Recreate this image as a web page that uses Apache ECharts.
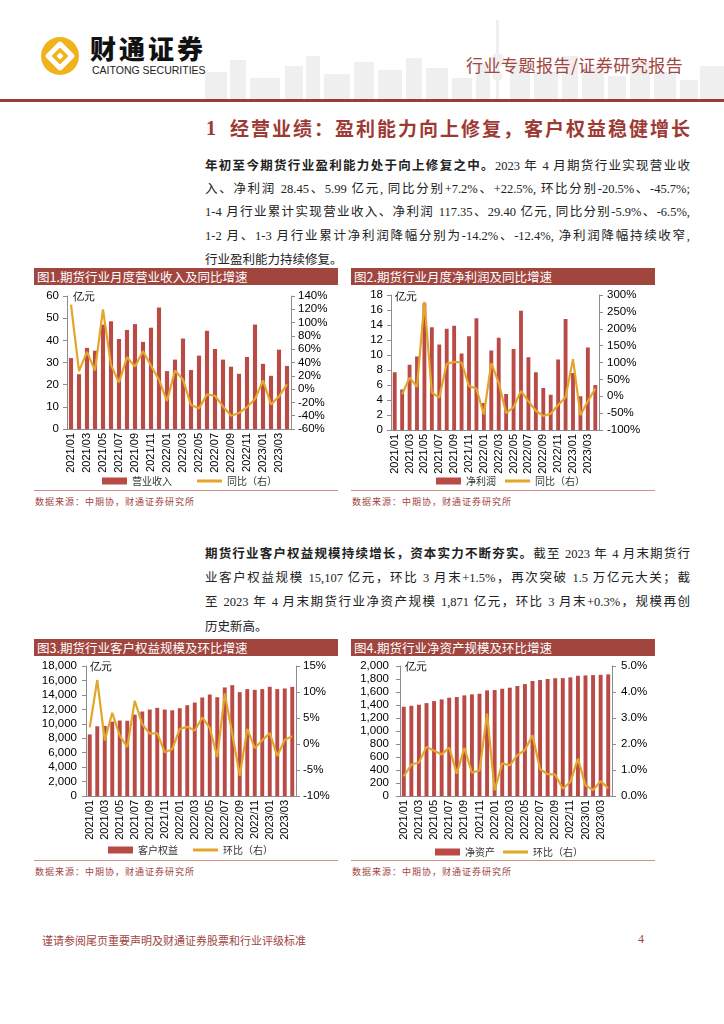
<!DOCTYPE html>
<html><head><meta charset="utf-8">
<script src="https://cdn.jsdelivr.net/npm/echarts@6/dist/echarts.min.js"></script>
<style>
body{margin:0;width:724px;height:1024px;position:relative;background:#fff;overflow:hidden;font-family:"Liberation Serif","Noto Sans CJK SC",serif;}
.abs{position:absolute;white-space:nowrap;}
.p{position:absolute;left:205px;width:485px;font-size:12.5px;color:#222;text-align:justify;text-align-last:justify;white-space:nowrap;line-height:16px;}
.p.last{text-align-last:left;}
.tbar{position:absolute;height:17px;background:#a0463f;color:#fff;font-family:"Noto Sans CJK SC";font-size:12.5px;line-height:17px;padding-left:3px;box-sizing:border-box;}
.srcline{position:absolute;height:0;border-top:1.5px solid #cf8f8a;}
.src{position:absolute;font-family:"Noto Sans CJK SC";font-size:9px;color:#a0463f;letter-spacing:1px;}
#chart{position:absolute;left:0;top:0;width:724px;height:1024px;}
</style></head>
<body>
<svg class="abs" style="left:0;top:0" width="724" height="104">
  <g fill="#efefef">
    <rect x="205" y="72" width="22" height="28"/><rect x="230" y="60" width="16" height="40"/>
    <rect x="250" y="78" width="30" height="22"/><rect x="285" y="66" width="18" height="34"/>
    <rect x="306" y="56" width="14" height="44"/><rect x="324" y="74" width="26" height="26"/>
    <rect x="354" y="62" width="20" height="38"/><rect x="378" y="70" width="24" height="30"/>
    <rect x="406" y="58" width="16" height="42"/><rect x="426" y="68" width="22" height="32"/>
    <rect x="452" y="78" width="20" height="22"/><rect x="476" y="64" width="14" height="36"/>
    <rect x="496" y="20" width="3" height="80"/><circle cx="497.5" cy="60" r="7"/><circle cx="497.5" cy="76" r="5"/>
    <rect x="510" y="60" width="20" height="40"/><rect x="534" y="72" width="24" height="28"/>
    <rect x="562" y="56" width="16" height="44"/><rect x="582" y="68" width="22" height="32"/>
    <rect x="608" y="76" width="18" height="24"/><rect x="630" y="62" width="20" height="38"/>
    <rect x="654" y="72" width="22" height="28"/><rect x="680" y="80" width="18" height="20"/>
    <rect x="700" y="66" width="24" height="34"/>
  </g>
  <rect x="0" y="99" width="724" height="3" fill="#9e3b36"/>
</svg>
<svg class="abs" style="left:40px;top:35px" width="40" height="42">
  <circle cx="20" cy="21" r="19" fill="#f1b31c"/>
  <rect x="9" y="10" width="22" height="22" fill="#fff" transform="rotate(45 20 21)" rx="3"/>
  <rect x="14" y="15" width="12" height="12" fill="#f1b31c" transform="rotate(45 20 21)" rx="1"/>
  <rect x="17.5" y="18.5" width="5" height="5" fill="#fff" transform="rotate(45 20 21)"/>
</svg>
<div class="abs" style="left:90px;top:33px;font-family:'Noto Sans CJK SC';font-weight:900;font-size:26px;letter-spacing:3px;color:#111;line-height:30px;">财通证券</div>
<div class="abs" style="left:92px;top:64px;font-family:'Liberation Sans';font-size:10.5px;color:#222;line-height:12px;">CAITONG SECURITIES</div>
<div class="abs" style="left:466px;top:54px;font-family:'Noto Sans CJK SC';font-size:17px;color:#a0463f;line-height:22px;letter-spacing:0.5px;">行业专题报告/证券研究报告</div>

<div class="abs" style="left:206px;top:115px;font-family:'Liberation Serif';font-weight:bold;font-size:20px;color:#9e3a34;line-height:26px;">1</div>
<div class="abs" style="left:230px;top:115px;width:460px;font-family:'Noto Sans CJK SC';font-weight:700;font-size:19px;color:#9e3a34;line-height:26px;text-align:justify;text-align-last:justify;">经营业绩：盈利能力向上修复，客户权益稳健增长</div>

<div class="p" style="top:157px"><b style="font-family:'Noto Sans CJK SC'">年初至今期货行业盈利能力处于向上修复之中。</b>2023 年 4 月期货行业实现营业收</div>
<div class="p" style="top:181px">入、净利润 28.45、5.99 亿元, 同比分别+7.2%、+22.5%, 环比分别-20.5%、-45.7%;</div>
<div class="p" style="top:204px">1-4 月行业累计实现营业收入、净利润 117.35、29.40 亿元, 同比分别-5.9%、-6.5%,</div>
<div class="p" style="top:228px">1-2 月、1-3 月行业累计净利润降幅分别为-14.2%、-12.4%, 净利润降幅持续收窄,</div>
<div class="p last" style="top:252px">行业盈利能力持续修复。</div>

<div class="tbar" style="left:34px;top:268px;width:304px;">图1.期货行业月度营业收入及同比增速</div>
<div class="tbar" style="left:351px;top:268px;width:304px;">图2.期货行业月度净利润及同比增速</div>
<div class="srcline" style="left:34px;top:490px;width:304px;"></div>
<div class="srcline" style="left:351px;top:490px;width:304px;"></div>
<div class="src" style="left:35px;top:495px;">数据来源：中期协，财通证券研究所</div>
<div class="src" style="left:352px;top:495px;">数据来源：中期协，财通证券研究所</div>

<div class="p" style="top:545px"><b style="font-family:'Noto Sans CJK SC'">期货行业客户权益规模持续增长，资本实力不断夯实。</b>截至 2023 年 4 月末期货行</div>
<div class="p" style="top:570px">业客户权益规模 15,107 亿元，环比 3 月末+1.5%，再次突破 1.5 万亿元大关；截</div>
<div class="p" style="top:594px">至 2023 年 4 月末期货行业净资产规模 1,871 亿元，环比 3 月末+0.3%，规模再创</div>
<div class="p last" style="top:619px">历史新高。</div>

<div class="tbar" style="left:34px;top:639px;width:304px;">图3.期货行业客户权益规模及环比增速</div>
<div class="tbar" style="left:351px;top:639px;width:304px;">图4.期货行业净资产规模及环比增速</div>
<div class="srcline" style="left:34px;top:860px;width:304px;"></div>
<div class="srcline" style="left:351px;top:860px;width:304px;"></div>
<div class="src" style="left:35px;top:865px;">数据来源：中期协，财通证券研究所</div>
<div class="src" style="left:352px;top:865px;">数据来源：中期协，财通证券研究所</div>

<div class="abs" style="left:42px;top:932px;font-family:'Noto Sans CJK SC';font-size:11px;color:#a0463f;">谨请参阅尾页重要声明及财通证券股票和行业评级标准</div>
<div class="abs" style="left:638px;top:932px;font-family:'Liberation Serif';font-size:12px;color:#a0463f;">4</div>

<div id="chart"></div>
<script>
const months = ['2021/01','2021/02','2021/03','2021/04','2021/05','2021/06','2021/07','2021/08','2021/09','2021/10','2021/11','2021/12',
  '2022/01','2022/02','2022/03','2022/04','2022/05','2022/06','2022/07','2022/08','2022/09','2022/10','2022/11','2022/12',
  '2023/01','2023/02','2023/03','2023/04'];
const revenue = [32.0, 24.7, 36.6, 35.3, 47.1, 48.6, 40.6, 44.7, 47.3, 39.3, 45.7, 54.8, 26.1, 31.3, 40.8, 26.6, 33.1, 44.3, 36.1, 31.3, 28.1, 24.9, 32.5, 47.1, 29.4, 24.0, 35.8, 28.45];
const revenueYoY = [127, 27, 56, 28, 120, 36, 10, 48, 34, 57, 35, 14, -18, 28, 14, -24, -29, -8, -10, -26, -40, -36, -27, -15, 13, -23, -11, 7.2];
const profit = [7.7, 5.4, 8.7, 9.8, 16.9, 13.7, 11.4, 13.5, 13.9, 10.2, 12.5, 14.9, 3.6, 10.6, 12.3, 4.8, 10.8, 15.9, 9.7, 7.7, 5.6, 4.7, 9.4, 14.8, 7.6, 4.5, 11.0, 5.99];
const profitYoY = ['-', 6, 55, 28, 280, 11, -4, 96, 102, 100, 30, 23, -54, 98, 40, -50, -32, 16, -15, -43, -58, -52, -26, -3, 110, -56, -15, 22.5];
const equity = [8530, 9650, 9700, 10300, 10450, 10420, 11270, 11700, 11970, 12200, 11970, 11870, 12150, 12570, 12940, 13640, 14050, 13680, 15030, 15350, 14380, 14800, 14700, 14800, 15120, 14800, 14890, 15107];
const equityMoM = [3.2, 12.3, 0.7, 6.0, 1.6, -0.6, 8.3, 3.8, 2.0, 2.1, -1.6, -1.0, 2.9, 3.3, 2.6, 5.1, 3.1, -2.5, 9.7, 2.0, -6.1, 2.9, -0.8, 0.7, 2.1, -2.3, 0.8, 1.5];
const netAssets = [1373, 1388, 1404, 1429, 1460, 1486, 1512, 1522, 1548, 1563, 1573, 1625, 1630, 1650, 1666, 1692, 1722, 1769, 1784, 1800, 1812, 1814, 1825, 1850, 1855, 1860, 1865, 1871];
const netAssetsMoM = [0.76, 1.21, 1.29, 1.89, 1.74, 1.6, 1.86, 0.86, 1.85, 0.9, 0.98, 3.17, 0.22, 1.26, 1.18, 1.57, 1.77, 2.34, 1.03, 0.84, 0.82, 0.28, 0.54, 1.44, 0.41, 0.23, 0.57, 0.3];

const barColor = '#b94a45';
const lineColor = '#e3a52a';
const axisColor = '#8c8c8c';
const font = 'Liberation Sans';

const charts = [
  {grid:{left:67, top:296, width:224, height:133}, bar:revenue, line:revenueYoY, barName:'营业收入', lineName:'同比（右）',
   l:{min:0,max:60,interval:10,fmt:v=>v, margin:8}, r:{min:-60,max:140,interval:20,fmt:v=>v+'%', margin:7},
   unit:[73,292], lg1:[97,471], lg2:[192,471]},
  {grid:{left:391, top:295, width:208, height:135}, bar:profit, line:profitYoY, barName:'净利润', lineName:'同比（右）',
   l:{min:0,max:18,interval:2,fmt:v=>v, margin:8}, r:{min:-100,max:300,interval:50,fmt:v=>v+'%', margin:8},
   unit:[395,292], lg1:[431,471], lg2:[500,471]},
  {grid:{left:86, top:666, width:210, height:130}, bar:equity, line:equityMoM, barName:'客户权益', lineName:'环比（右）',
   l:{min:0,max:18000,interval:2000,fmt:v=>v.toLocaleString('en-US'), margin:9}, r:{min:-10,max:15,interval:5,fmt:v=>v+'%', margin:7},
   unit:[90,662], lg1:[103,840], lg2:[188,840]},
  {grid:{left:400, top:666, width:212, height:130}, bar:netAssets, line:netAssetsMoM, barName:'净资产', lineName:'环比（右）',
   l:{min:0,max:2000,interval:200,fmt:v=>v.toLocaleString('en-US'), margin:11}, r:{min:0,max:5,interval:1,fmt:v=>v.toFixed(1)+'%', margin:9},
   unit:[405,662], lg1:[430,842], lg2:[498,842]}
];

const option = {animation:false, grid:[], xAxis:[], yAxis:[], series:[], legend:[], graphic:[]};
charts.forEach((c, i) => {
  option.grid.push(c.grid);
  option.xAxis.push({type:'category', gridIndex:i, data:months, boundaryGap:true,
    axisLine:{lineStyle:{color:axisColor}}, axisTick:{show:false},
    axisLabel:{rotate:90, interval:1, fontSize:11, color:'#000', margin:4, fontFamily:font}});
  [['left', c.l], ['right', c.r]].forEach(([pos, a]) => {
    option.yAxis.push({type:'value', gridIndex:i, position:pos, min:a.min, max:a.max, interval:a.interval,
      splitLine:{show:false}, axisLine:{show:true, lineStyle:{color:axisColor}},
      axisTick:{show:true, length:4, lineStyle:{color:axisColor}},
      axisLabel:{formatter:a.fmt, fontSize:11.5, color:'#000', fontFamily:font, margin:a.margin}});
  });
  option.series.push({type:'bar', name:c.barName, xAxisIndex:i, yAxisIndex:2*i, data:c.bar, barWidth:'52%',
    itemStyle:{color:barColor}, z:2});
  option.series.push({type:'line', name:c.lineName, xAxisIndex:i, yAxisIndex:2*i+1, data:c.line, symbol:'none',
    lineStyle:{width:2.2, color:lineColor}, itemStyle:{color:lineColor}, z:3});
  const lgBase = {itemWidth:25, itemGap:10, selectedMode:false,
    textStyle:{fontSize:10, color:'#333', fontFamily:'Noto Sans CJK SC'}};
  option.legend.push(Object.assign({}, lgBase, {itemHeight:7, left:c.lg1[0], top:c.lg1[1], data:[{name:c.barName, icon:'rect'}]}));
  option.legend.push(Object.assign({}, lgBase, {itemHeight:3, left:c.lg2[0], top:c.lg2[1], data:[{name:c.lineName, icon:'rect'}]}));
  option.graphic.push({type:'text', left:c.unit[0], top:c.unit[1],
    style:{text:'亿元', fontSize:10.5, fill:'#000', font:'10.5px "Noto Sans CJK SC"'}});
});

const chart = echarts.init(document.getElementById('chart'), null, {renderer:'canvas'});
chart.setOption(option);
</script>
</body></html>
